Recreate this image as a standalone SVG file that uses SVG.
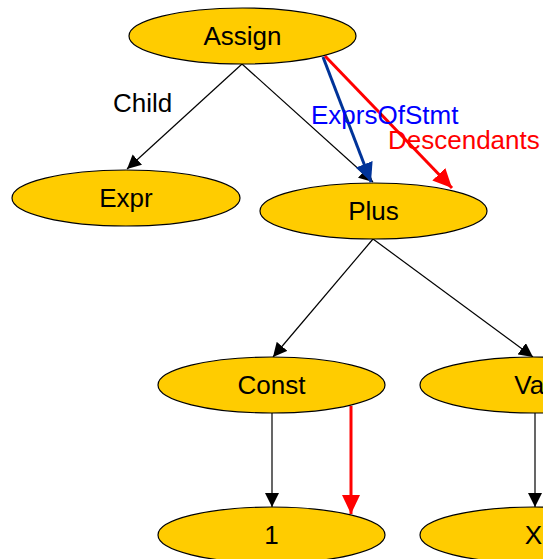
<svg xmlns="http://www.w3.org/2000/svg" width="543" height="559" viewBox="0 0 543 559">
<style>
.node ellipse{fill:#FFCC00;stroke:#000;stroke-width:1.2}
.node text{font-family:"Liberation Sans",Arial,sans-serif;font-size:26px;fill:#000;text-anchor:middle}
.lbl{font-family:"Liberation Sans",Arial,sans-serif;font-size:26px}
.e{stroke:#000;stroke-width:1.2;fill:none;marker-end:url(#ab)}
.r{stroke:#FF0000;stroke-width:3;fill:none;marker-end:url(#ar)}
.b{stroke:#003399;stroke-width:3;fill:none;marker-end:url(#abl)}
</style>
<defs>
<marker id="ab" markerUnits="userSpaceOnUse" viewBox="0 0 14 14" refX="14" refY="7" markerWidth="14" markerHeight="14" orient="auto"><path d="M0,0 L14,7 L0,14 z" fill="#000"/></marker>
<marker id="ar" markerUnits="userSpaceOnUse" viewBox="0 0 19 18" refX="19" refY="9" markerWidth="19" markerHeight="18" orient="auto"><path d="M0,0 L19,9 L0,18 z" fill="#FF0000"/></marker>
<marker id="abl" markerUnits="userSpaceOnUse" viewBox="0 0 19 18" refX="19" refY="9" markerWidth="19" markerHeight="18" orient="auto"><path d="M0,0 L19,9 L0,18 z" fill="#003399"/></marker>
</defs>
<rect width="543" height="559" fill="#fff"/>
<g id="connectors">
<line class="e" x1="242" y1="64" x2="127" y2="169"/>
<line class="e" x1="242" y1="64" x2="373" y2="182"/>
<line class="e" x1="373" y1="239" x2="273" y2="357"/>
<line class="e" x1="373" y1="239" x2="533" y2="357"/>
<line class="e" x1="272" y1="413" x2="272" y2="507"/>
<line class="e" x1="535" y1="413" x2="535" y2="507"/>
<line class="b" x1="323" y1="57" x2="371" y2="182"/>
<line class="r" x1="325" y1="56" x2="452" y2="188"/>
<line class="r" x1="351" y1="406" x2="351" y2="514"/>
<text class="lbl" x="113" y="112" fill="#000">Child</text>
<text class="lbl" x="311" y="124" fill="#0000FF">ExprsOfStmt</text>
<text class="lbl" x="388" y="149" fill="#FF0000">Descendants</text>
</g>
<g id="assign" class="node"><ellipse cx="242.5" cy="36" rx="113.5" ry="28"/><text x="242.5" y="45">Assign</text></g>
<g id="expr" class="node"><ellipse cx="126" cy="198" rx="114" ry="28"/><text x="126" y="207">Expr</text></g>
<g id="plus" class="node"><ellipse cx="373.5" cy="211" rx="113.5" ry="28"/><text x="373.5" y="220">Plus</text></g>
<g id="const" class="node"><ellipse cx="271.5" cy="385" rx="113.5" ry="28"/><text x="271.5" y="394">Const</text></g>
<g id="var" class="node"><ellipse cx="533.5" cy="385" rx="113.5" ry="28"/><text x="533.5" y="394">Var</text></g>
<g id="one" class="node"><ellipse cx="271.5" cy="535" rx="113.5" ry="28"/><text x="271.5" y="544">1</text></g>
<g id="x" class="node"><ellipse cx="533.5" cy="535" rx="113.5" ry="28"/><text x="533.5" y="544">X</text></g>
</svg>
